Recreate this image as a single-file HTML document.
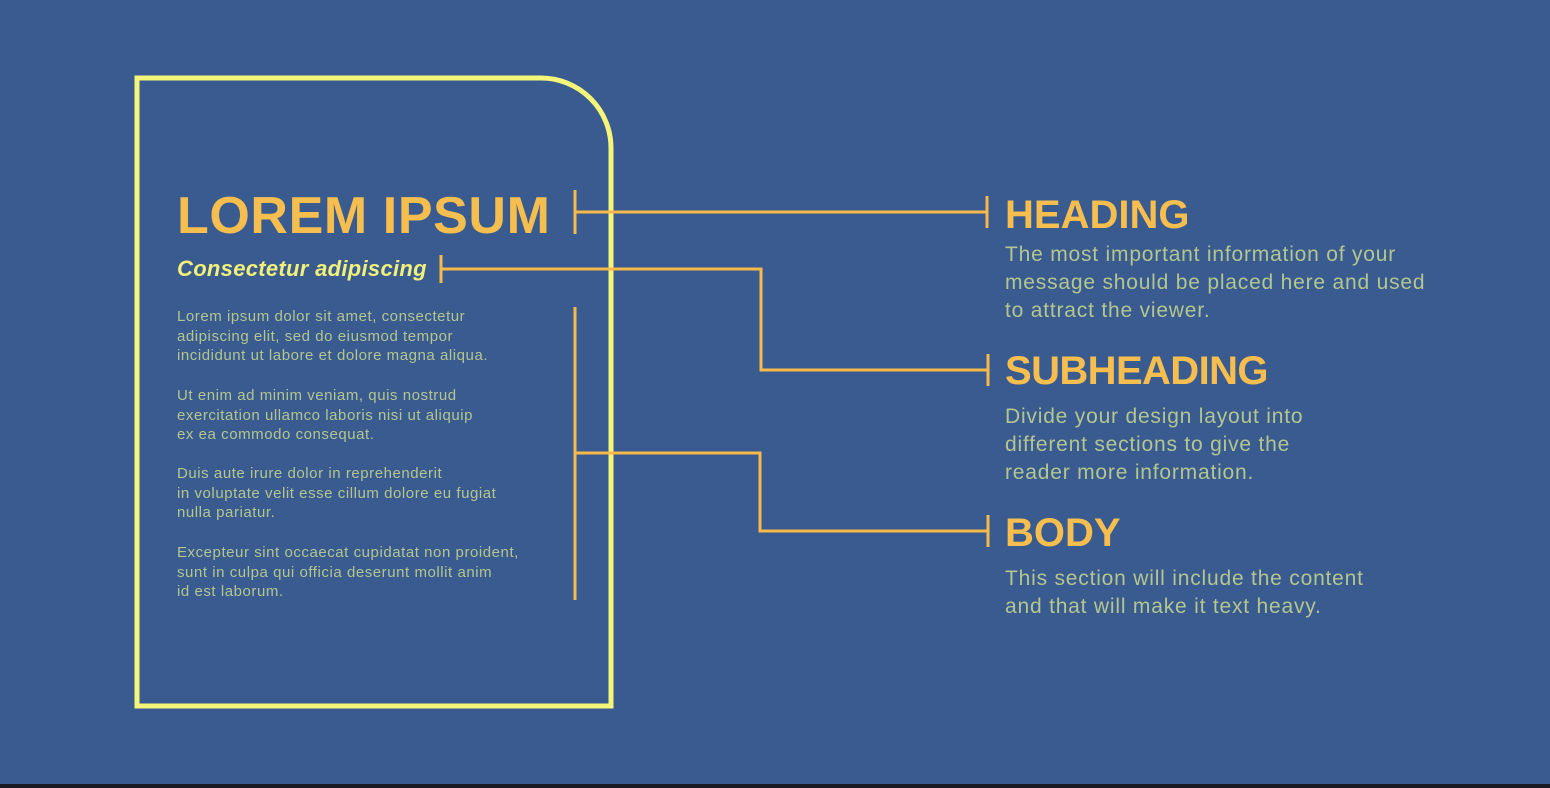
<!DOCTYPE html>
<html><head><meta charset="utf-8"><style>
html,body{margin:0;padding:0;background:#3a5b8f;}
svg{display:block;font-family:"Liberation Sans",sans-serif;}
.b{fill:#b3c68f;font-size:15px;letter-spacing:0.55px;}
.d{fill:#b3c68f;font-size:21px;letter-spacing:0.8px;}
.h{fill:#f6bd4f;font-size:40px;font-weight:bold;}
.ln{stroke:#f6b94a;stroke-width:3;fill:none;}
</style></head><body>
<svg width="1550" height="788" viewBox="0 0 1550 788">
<rect x="0" y="0" width="1550" height="788" fill="#3a5b8f"/>
<rect x="0" y="784" width="1550" height="4" fill="#1a1a22"/>
<path d="M137 706 L137 78 L541 78 A70 70 0 0 1 611 148 L611 706 Z" fill="none" stroke="#f5f57a" stroke-width="5"/>
<g>
<path class="ln" d="M575 190 V234 M575 212 H987 M987 196 V228"/>
</g>
<g>
<path class="ln" d="M441 255 V283 M441 269 H761 V370 H988 M988 354 V386"/>
</g>
<g>
<path class="ln" d="M575 307 V600 M575 453 H760 V531 H988 M988 515 V547"/>
</g>
<text x="177" y="233" fill="#f6bd4f" font-size="52" font-weight="bold" letter-spacing="0.6">LOREM IPSUM</text>
<text x="177" y="276" fill="#f0f07a" font-size="22" font-weight="bold" font-style="italic" letter-spacing="0.3">Consectetur adipiscing</text>
<g>
<text class="b" x="177" y="321">Lorem ipsum dolor sit amet, consectetur</text>
<text class="b" x="177" y="341">adipiscing elit, sed do eiusmod tempor</text>
<text class="b" x="177" y="360">incididunt ut labore et dolore magna aliqua.</text>
<text class="b" x="177" y="400">Ut enim ad minim veniam, quis nostrud</text>
<text class="b" x="177" y="420">exercitation ullamco laboris nisi ut aliquip</text>
<text class="b" x="177" y="439">ex ea commodo consequat.</text>
<text class="b" x="177" y="478">Duis aute irure dolor in reprehenderit</text>
<text class="b" x="177" y="498">in voluptate velit esse cillum dolore eu fugiat</text>
<text class="b" x="177" y="517">nulla pariatur.</text>
<text class="b" x="177" y="557">Excepteur sint occaecat cupidatat non proident,</text>
<text class="b" x="177" y="577">sunt in culpa qui officia deserunt mollit anim</text>
<text class="b" x="177" y="596">id est laborum.</text>
</g>
<text class="h" x="1005" y="228">HEADING</text>
<g>
<text class="d" x="1005" y="261">The most important information of your</text>
<text class="d" x="1005" y="289">message should be placed here and used</text>
<text class="d" x="1005" y="317">to attract the viewer.</text>
</g>
<text class="h" x="1005" y="384" letter-spacing="-0.6">SUBHEADING</text>
<g>
<text class="d" x="1005" y="423">Divide your design layout into</text>
<text class="d" x="1005" y="451">different sections to give the</text>
<text class="d" x="1005" y="479">reader more information.</text>
</g>
<text class="h" x="1005" y="546">BODY</text>
<g>
<text class="d" x="1005" y="585">This section will include the content</text>
<text class="d" x="1005" y="613">and that will make it text heavy.</text>
</g>
</svg>
</body></html>
